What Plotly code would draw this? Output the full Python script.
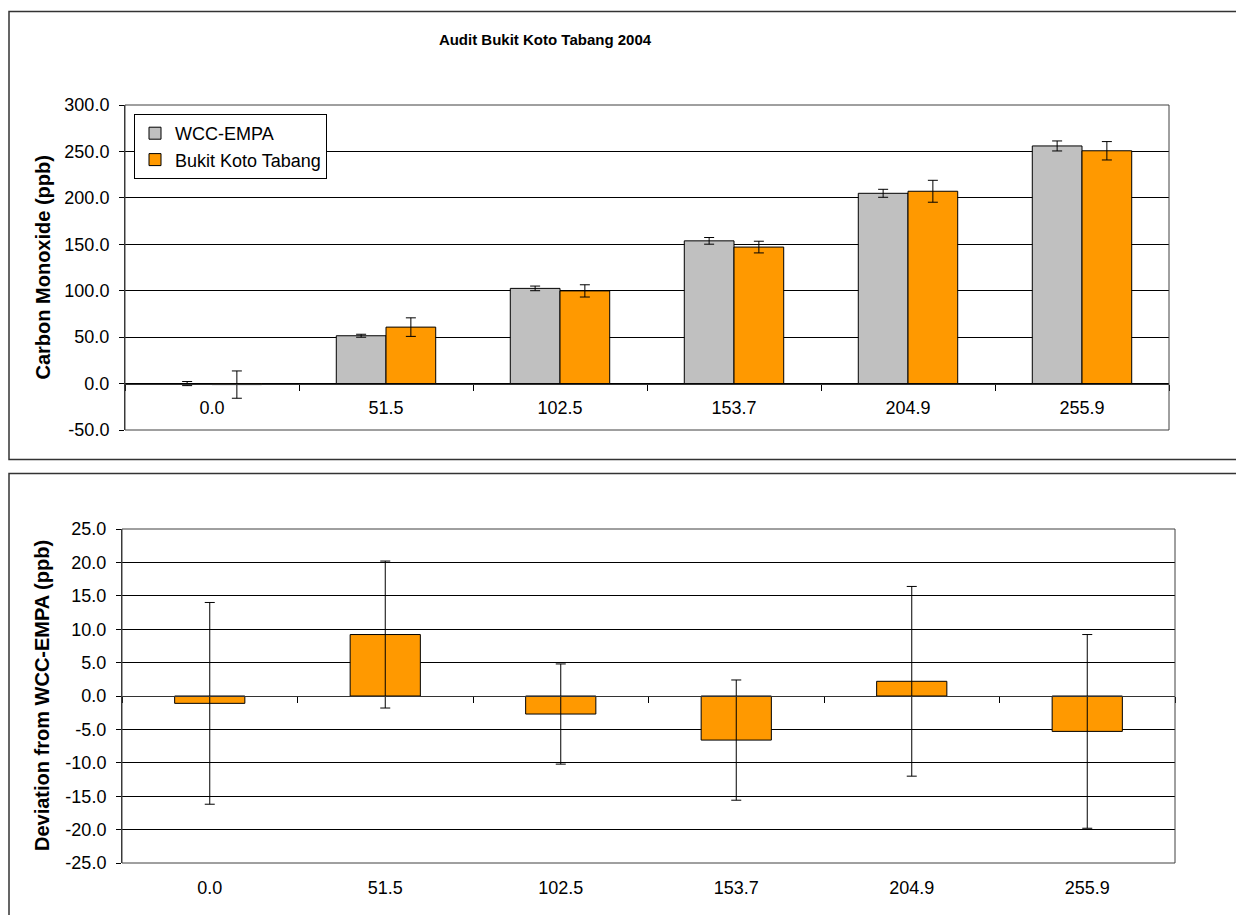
import plotly.graph_objects as go

# ---------------- data ----------------
categories = ["0.0", "51.5", "102.5", "153.7", "204.9", "255.9"]

wcc_values = [0.0, 51.5, 102.5, 153.7, 204.9, 255.9]
wcc_errors = [2.2, 1.6, 2.5, 3.6, 4.3, 5.4]

bkt_values = [-1.1, 60.8, 99.8, 147.0, 207.1, 250.7]
bkt_errors = [14.7, 10.0, 6.6, 6.3, 11.8, 9.9]

deviation_values = [-1.1, 9.2, -2.7, -6.6, 2.2, -5.3]
deviation_errors = [15.1, 11.0, 7.5, 9.0, 14.2, 14.5]

top_tickvals = [-50, 0, 50, 100, 150, 200, 250, 300]
top_ticktext = ["-50.0", "0.0", "50.0", "100.0", "150.0", "200.0", "250.0", "300.0"]
bottom_tickvals = [-25, -20, -15, -10, -5, 0, 5, 10, 15, 20, 25]
bottom_ticktext = ["-25.0", "-20.0", "-15.0", "-10.0", "-5.0", "0.0",
                   "5.0", "10.0", "15.0", "20.0", "25.0"]

# ---------------- layout helpers ----------------
W, H = 1236, 915


def px(x):
    return x / W


def py(y):
    return 1 - y / H


FONT = "Liberation Sans, Arial, sans-serif"

top_range = [-50, 300]
bot_range = [-25, 25]
top_dom_x = [px(125), px(1169)]
top_dom_y = [py(430), py(105)]
bot_dom_x = [px(122), px(1175)]
bot_dom_y = [py(863), py(529)]


def zero_pos(dom, rng):
    return dom[0] + (0 - rng[0]) / (rng[1] - rng[0]) * (dom[1] - dom[0])


fig = go.Figure()

err_style = dict(type="data", visible=True, color="#000000", thickness=1, width=5)

fig.add_trace(go.Bar(
    x=categories, y=wcc_values, name="WCC-EMPA",
    marker=dict(color="#C0C0C0", line=dict(color="#000000", width=1)),
    error_y=dict(array=wcc_errors, **err_style),
    xaxis="x", yaxis="y",
))
fig.add_trace(go.Bar(
    x=categories, y=bkt_values, name="Bukit Koto Tabang",
    marker=dict(color="#FF9900", line=dict(color="#000000", width=1)),
    error_y=dict(array=bkt_errors, **err_style),
    xaxis="x", yaxis="y",
))
fig.add_trace(go.Bar(
    x=categories, y=deviation_values, name="Deviation", showlegend=False,
    width=0.4,
    marker=dict(color="#FF9900", line=dict(color="#000000", width=1)),
    error_y=dict(array=deviation_errors, **err_style),
    xaxis="x2", yaxis="y2",
))
# invisible helper so the bottom label axis has its categories
fig.add_trace(go.Scatter(
    x=categories, y=deviation_values, mode="markers", showlegend=False,
    marker=dict(opacity=0), hoverinfo="skip",
    xaxis="x3", yaxis="y2",
))

tickfont = dict(family=FONT, size=18, color="#000000")

fig.update_layout(
    width=W, height=H, autosize=False,
    margin=dict(l=0, r=0, t=0, b=0, pad=0, autoexpand=False),
    paper_bgcolor="white", plot_bgcolor="white",
    barmode="group", bargap=0.4286, bargroupgap=0,
    showlegend=True,
    legend=dict(
        x=px(134), y=py(114), xanchor="left", yanchor="top",
        bgcolor="white", bordercolor="#000000", borderwidth=1,
        font=dict(family=FONT, size=18, color="#000000"),
        traceorder="normal",
    ),
    title=dict(
        text="<b>Audit Bukit Koto Tabang 2004</b>",
        x=px(545), y=py(40), xanchor="center", yanchor="middle",
        xref="paper", yref="paper", automargin=False,
        font=dict(family=FONT, size=15, color="#000000"),
    ),
    xaxis=dict(
        type="category", categoryorder="array", categoryarray=categories,
        range=[-0.5, 5.5], domain=top_dom_x, automargin=False,
        anchor="free", position=zero_pos(top_dom_y, top_range),
        tickson="boundaries", ticks="outside", ticklen=6, tickcolor="#000000",
        showline=True, linecolor="#333333", linewidth=1,
        showgrid=False, zeroline=False,
        tickfont=tickfont, ticklabelstandoff=8,
    ),
    yaxis=dict(
        domain=top_dom_y, range=top_range, anchor="x", automargin=False,
        tickmode="array", tickvals=top_tickvals, ticktext=top_ticktext,
        ticks="outside", ticklen=5, tickcolor="#000000",
        showline=True, linecolor="#333333", linewidth=1,
        showgrid=True, gridcolor="#000000", gridwidth=1,
        zeroline=False, tickfont=tickfont, ticklabelstandoff=6,
    ),
    xaxis2=dict(
        type="category", categoryorder="array", categoryarray=categories,
        range=[-0.5, 5.5], domain=bot_dom_x, automargin=False,
        anchor="free", position=zero_pos(bot_dom_y, bot_range),
        tickson="boundaries", ticks="outside", ticklen=6, tickcolor="#000000",
        showline=True, linecolor="#333333", linewidth=1,
        showgrid=False, zeroline=False, showticklabels=False,
    ),
    xaxis3=dict(
        type="category", categoryorder="array", categoryarray=categories,
        range=[-0.5, 5.5], overlaying="x2", anchor="y2", side="bottom",
        automargin=False,
        showline=False, ticks="", showgrid=False, zeroline=False,
        tickfont=tickfont, ticklabelstandoff=12,
    ),
    yaxis2=dict(
        domain=bot_dom_y, range=bot_range, anchor="x2", automargin=False,
        tickmode="array", tickvals=bottom_tickvals, ticktext=bottom_ticktext,
        ticks="outside", ticklen=5, tickcolor="#000000",
        showline=True, linecolor="#333333", linewidth=1,
        showgrid=True, gridcolor="#000000", gridwidth=1,
        zeroline=False, tickfont=tickfont, ticklabelstandoff=6,
    ),
)

# axis titles
fig.add_annotation(
    text="<b>Carbon Monoxide (ppb)</b>", textangle=-90,
    x=px(42), y=(top_dom_y[0] + top_dom_y[1]) / 2,
    xref="paper", yref="paper", showarrow=False,
    xanchor="center", yanchor="middle",
    font=dict(family=FONT, size=20, color="#000000"),
)
fig.add_annotation(
    text="<b>Deviation from WCC-EMPA (ppb)</b>", textangle=-90,
    x=px(42), y=(bot_dom_y[0] + bot_dom_y[1]) / 2,
    xref="paper", yref="paper", showarrow=False,
    xanchor="center", yanchor="middle",
    font=dict(family=FONT, size=20, color="#000000"),
)

# plot-area borders
for xr, yr in (("x domain", "y domain"), ("x2 domain", "y2 domain")):
    fig.add_shape(type="rect", xref=xr, yref=yr, x0=0, x1=1, y0=0, y1=1,
                  line=dict(color="#404040", width=1), layer="above")

# chart frames
fig.add_shape(type="rect", xref="paper", yref="paper",
              x0=px(9), x1=px(1240), y0=py(459.5), y1=py(11.5),
              line=dict(color="#333333", width=1.5))
fig.add_shape(type="rect", xref="paper", yref="paper",
              x0=px(9), x1=px(1240), y0=py(920), y1=py(473.5),
              line=dict(color="#333333", width=1.5))

fig.write_html(
    "out.html",
    config={"displayModeBar": False},
    post_script="document.body.style.margin='0';",
)
